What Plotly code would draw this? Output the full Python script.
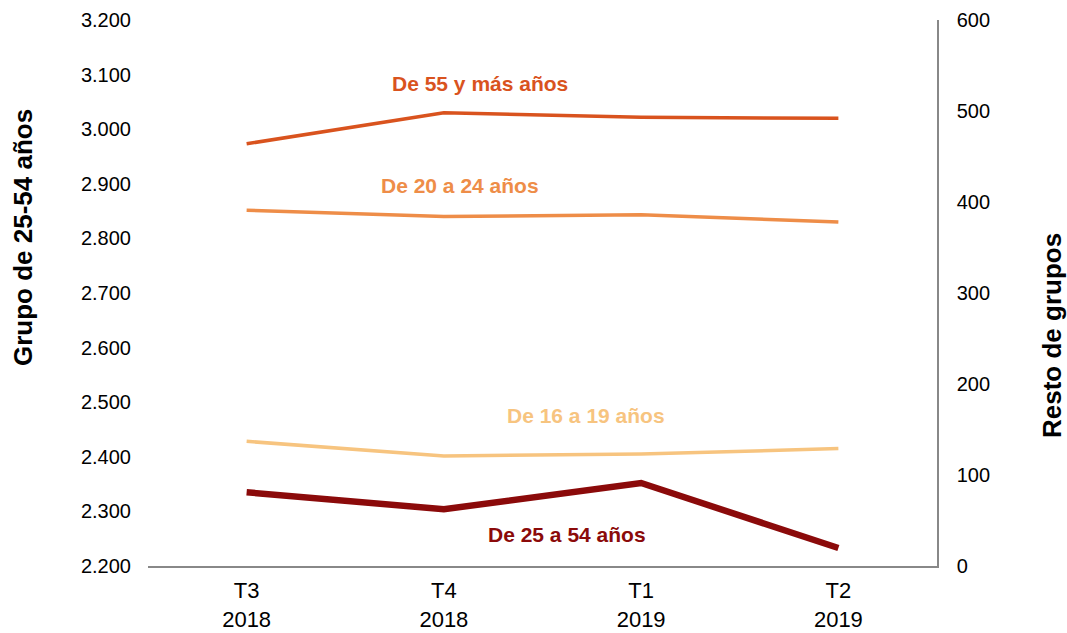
import plotly.graph_objects as go

categories = ["T3<br>2018", "T4<br>2018", "T1<br>2019", "T2<br>2019"]
g25_54 = [2335, 2304, 2352, 2233]
g55 = [464, 498, 493, 492]
g20_24 = [391, 384, 386, 378]
g16_19 = [137, 121, 123, 129]

fig = go.Figure()
fig.add_trace(go.Scatter(x=categories, y=g55, yaxis="y2", mode="lines",
                         line=dict(color="#D9531E", width=3.5), name="De 55 y más años"))
fig.add_trace(go.Scatter(x=categories, y=g20_24, yaxis="y2", mode="lines",
                         line=dict(color="#EE8D48", width=3.5), name="De 20 a 24 años"))
fig.add_trace(go.Scatter(x=categories, y=g16_19, yaxis="y2", mode="lines",
                         line=dict(color="#F7C47F", width=3.5), name="De 16 a 19 años"))
fig.add_trace(go.Scatter(x=categories, y=g25_54, yaxis="y", mode="lines",
                         line=dict(color="#8B0A0A", width=6.5), name="De 25 a 54 años"))

font = "Liberation Sans, Arial, sans-serif"
L, R, T, B = 148, 937, 20, 566


def px(x, y):
    return (x - L) / (R - L), (B - y) / (B - T)


labels = [
    ("De 55 y más años", 479.5, 83, "#D9531E"),
    ("De 20 a 24 años", 460, 185, "#EE8D48"),
    ("De 16 a 19 años", 586, 415, "#F7C47F"),
    ("De 25 a 54 años", 567, 534, "#8B0A0A"),
]
annotations = []
for t, x, y, c in labels:
    ax, ay = px(x, y)
    annotations.append(dict(text=f"<b>{t}</b>", x=ax, y=ay, xref="paper", yref="paper",
                            showarrow=False, font=dict(size=21, color=c, family=font),
                            xanchor="center", yanchor="middle"))
for t, x, y in [("Grupo de 25-54 años", 23, 237), ("Resto de grupos", 1052, 336)]:
    ax, ay = px(x, y)
    annotations.append(dict(text=f"<b>{t}</b>", x=ax, y=ay, xref="paper", yref="paper",
                            showarrow=False, textangle=-90, xanchor="center", yanchor="middle",
                            font=dict(size=26, color="black", family=font)))

fig.update_layout(
    width=1067, height=633,
    margin=dict(l=L, r=1067 - R, t=T, b=633 - B),
    plot_bgcolor="white", paper_bgcolor="white",
    showlegend=False,
    separators=",.",
    font=dict(family=font, size=21, color="black"),
    xaxis=dict(showgrid=False, showline=True, linecolor="#888888", linewidth=1.5,
               range=[-0.5, 3.5], ticks="", tickfont=dict(size=22), automargin=False,
               ticklabelstandoff=4),
    yaxis=dict(range=[2200, 3200], dtick=100, tickformat=",.0f", showgrid=False,
               showline=False, zeroline=False, ticklabelstandoff=16, tickfont=dict(size=20),
               automargin=False),
    yaxis2=dict(range=[0, 600], dtick=100, overlaying="y", side="right", showgrid=False,
                showline=True, linecolor="#888888", linewidth=1.5, zeroline=False,
                ticklabelstandoff=14, tickfont=dict(size=20), automargin=False),
    annotations=annotations,
)
fig.write_html("out.html", config={"displayModeBar": False},
               post_script="document.body.style.margin='0';")
